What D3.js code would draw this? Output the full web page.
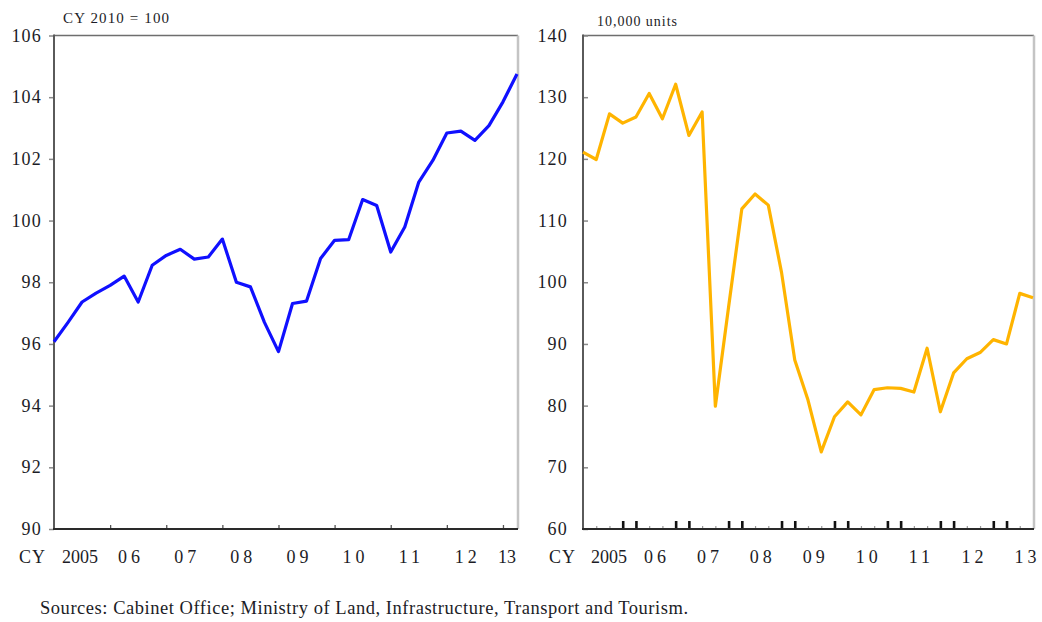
<!DOCTYPE html>
<html>
<head>
<meta charset="utf-8">
<script src="https://cdn.jsdelivr.net/npm/d3@7"></script>
<style>
  html, body { margin: 0; padding: 0; background: #ffffff; }
  svg { display: block; }
  text { font-family: "Liberation Serif", "Times New Roman", serif; fill: #1c1c26; }
</style>
</head>
<body>
<script>
// ---------------- DATA ----------------
const yearLabels = ["2005", "06", "07", "08", "09", "10", "11", "12", "13"];

// Left panel: quarterly index, CY 2010 = 100 (2005 Q1 – 2013 Q2)
const indexValues = [
  96.07, 96.7, 97.36, 97.65, 97.9, 98.2, 97.36, 98.55, 98.87, 99.07,
  98.75, 98.82, 99.4, 98.0, 97.85, 96.7, 95.75, 97.31, 97.39, 98.77,
  99.36, 99.38, 100.68, 100.49, 98.98, 99.79, 101.25, 101.95, 102.84, 102.9,
  102.6, 103.08, 103.85, 104.75
];

// Right panel: quarterly, 10,000 units (2005 Q1 – 2013 Q3)
const unitValues = [
  121.1, 119.9, 127.3, 125.8, 126.8, 130.6, 126.5, 132.1, 123.8, 127.6,
  79.9, 96.0, 111.9, 114.3, 112.5, 101.6, 87.4, 80.9, 72.5, 78.2,
  80.6, 78.5, 82.6, 82.9, 82.8, 82.2, 89.3, 79.0, 85.3, 87.6,
  88.6, 90.7, 90.0, 98.2, 97.5
];

const leftTicks = [90, 92, 94, 96, 98, 100, 102, 104, 106];
const rightTicks = [60, 70, 80, 90, 100, 110, 120, 130, 140];

const leftUnitLabel = "CY 2010 = 100";
const rightUnitLabel = "10,000 units";
const axisPrefix = "CY";
const sourceText = "Sources: Cabinet Office; Ministry of Land, Infrastructure, Transport and Tourism.";

// ---------------- LAYOUT ----------------
const W = 1042, H = 622;
const svg = d3.select("body").append("svg").attr("width", W).attr("height", H);

const plotTop = 35.5, plotBottom = 529;

function panel(cfg) {
  const g = svg.append("g");
  const x = d3.scaleLinear().domain([0, cfg.values.length - 1]).range([cfg.x0, cfg.x1]);
  const y = d3.scaleLinear().domain(cfg.domain).range([plotBottom, plotTop]);

  // frame: top and right (light)
  g.append("line").attr("x1", cfg.x0).attr("x2", cfg.x1 + 1).attr("y1", plotTop).attr("y2", plotTop)
    .attr("stroke", "#6e6e6e").attr("stroke-width", 1.6);
  g.append("line").attr("x1", cfg.x1 + 1).attr("x2", cfg.x1 + 1).attr("y1", plotTop).attr("y2", plotBottom)
    .attr("stroke", "#c4c4c4").attr("stroke-width", 2.5);

  // Y axis
  const yAxis = (cfg.yInside ? d3.axisRight(y) : d3.axisLeft(y))
    .tickValues(cfg.ticks).tickSize(5).tickFormat(d3.format("d"));
  const ya = g.append("g").attr("transform", `translate(${cfg.x0},0)`).call(yAxis);
  ya.select(".domain").remove();
  ya.selectAll(".tick line").attr("stroke", "#8a8a8a").attr("stroke-width", 1.5);
  ya.selectAll(".tick text").remove();
  g.append("line").attr("x1", cfg.x0).attr("x2", cfg.x0).attr("y1", plotTop - 1).attr("y2", plotBottom)
    .attr("stroke", "#5a5a5a").attr("stroke-width", 2);

  // Y labels
  g.selectAll("text.ylab").data(cfg.ticks).enter().append("text")
    .attr("class", "ylab")
    .attr("x", cfg.labelRight).attr("y", d => y(d) + 6)
    .attr("text-anchor", "end")
    .style("font-size", "18px").style("letter-spacing", "1.2px")
    .text(d => d);

  // X ticks
  const xa = g.append("g").attr("transform", `translate(0,${plotBottom})`)
    .call(d3.axisBottom(x).tickValues(cfg.xTickIdx).tickSize(0).tickFormat(""));
  xa.select(".domain").remove();
  xa.selectAll(".tick line").remove();
  xa.selectAll(".tick").append("line")
    .attr("y1", 0).attr("y2", d => -cfg.tickLen(d))
    .attr("stroke", d => cfg.tickColor(d)).attr("stroke-width", d => cfg.tickWidth(d));

  // bottom axis line
  g.append("line").attr("x1", cfg.x0 - 1).attr("x2", cfg.x1 + 1).attr("y1", plotBottom).attr("y2", plotBottom)
    .attr("stroke", "#2a2a2a").attr("stroke-width", 2);

  // X labels
  g.append("text").attr("x", cfg.cyX).attr("y", 563).style("font-size", "18px")
    .style("letter-spacing", "1px").text(axisPrefix);
  yearLabels.forEach((lab, k) => {
    const t = g.append("text").attr("x", x(4 * k) + 8).attr("y", 563)
      .style("font-size", "18px")
      .style("letter-spacing", lab.length === 2 ? "4px" : "0px")
      .text(lab);
    const w = t.node().getComputedTextLength();
    const maxRight = cfg.x1 + cfg.labelOverhang;
    if (x(4 * k) + 8 + w > maxRight) {
      t.style("letter-spacing", "0px");
      const w2 = t.node().getComputedTextLength();
      t.attr("x", cfg.x1 - 1 - w2);
    }
  });

  // unit label
  g.append("text").attr("x", cfg.unitX).attr("y", cfg.unitY)
    .style("font-size", cfg.unitSize + "px")
    .attr("textLength", cfg.unitLen).attr("lengthAdjust", "spacing")
    .text(cfg.unit);

  // data line
  g.append("path").datum(cfg.values)
    .attr("fill", "none").attr("stroke", cfg.color).attr("stroke-width", 3.2)
    .attr("stroke-linejoin", "round").attr("stroke-linecap", "butt")
    .attr("d", d3.line().x((d, i) => x(i)).y(d => y(d)));
}

panel({
  values: indexValues, domain: [90, 106], ticks: leftTicks,
  x0: 54, x1: 517, yInside: false, labelRight: 42,
  xTickIdx: d3.range(4, indexValues.length, 4),
  tickLen: () => 4, tickColor: () => "#555", tickWidth: () => 1.3,
  cyX: 19, labelOverhang: -1,
  unit: leftUnitLabel, unitX: 63, unitY: 23, unitSize: 15, unitLen: 106,
  color: "#1010ff"
});

panel({
  values: unitValues, domain: [60, 140], ticks: rightTicks,
  x0: 583, x1: 1033, yInside: true, labelRight: 568,
  xTickIdx: d3.range(1, unitValues.length - 1),
  tickLen: d => (d % 4 === 0 || d % 4 === 3) ? 8 : 3,
  tickColor: d => (d % 4 === 0 || d % 4 === 3) ? "#111" : "#999",
  tickWidth: d => (d % 4 === 0 || d % 4 === 3) ? 2.6 : 1.2,
  cyX: 549, labelOverhang: 8,
  unit: rightUnitLabel, unitX: 597, unitY: 26, unitSize: 14, unitLen: 80,
  color: "#ffb400"
});

// source
svg.append("text").attr("x", 40).attr("y", 614)
  .style("font-size", "18.5px")
  .attr("textLength", 648).attr("lengthAdjust", "spacing")
  .text(sourceText);
</script>
</body>
</html>
